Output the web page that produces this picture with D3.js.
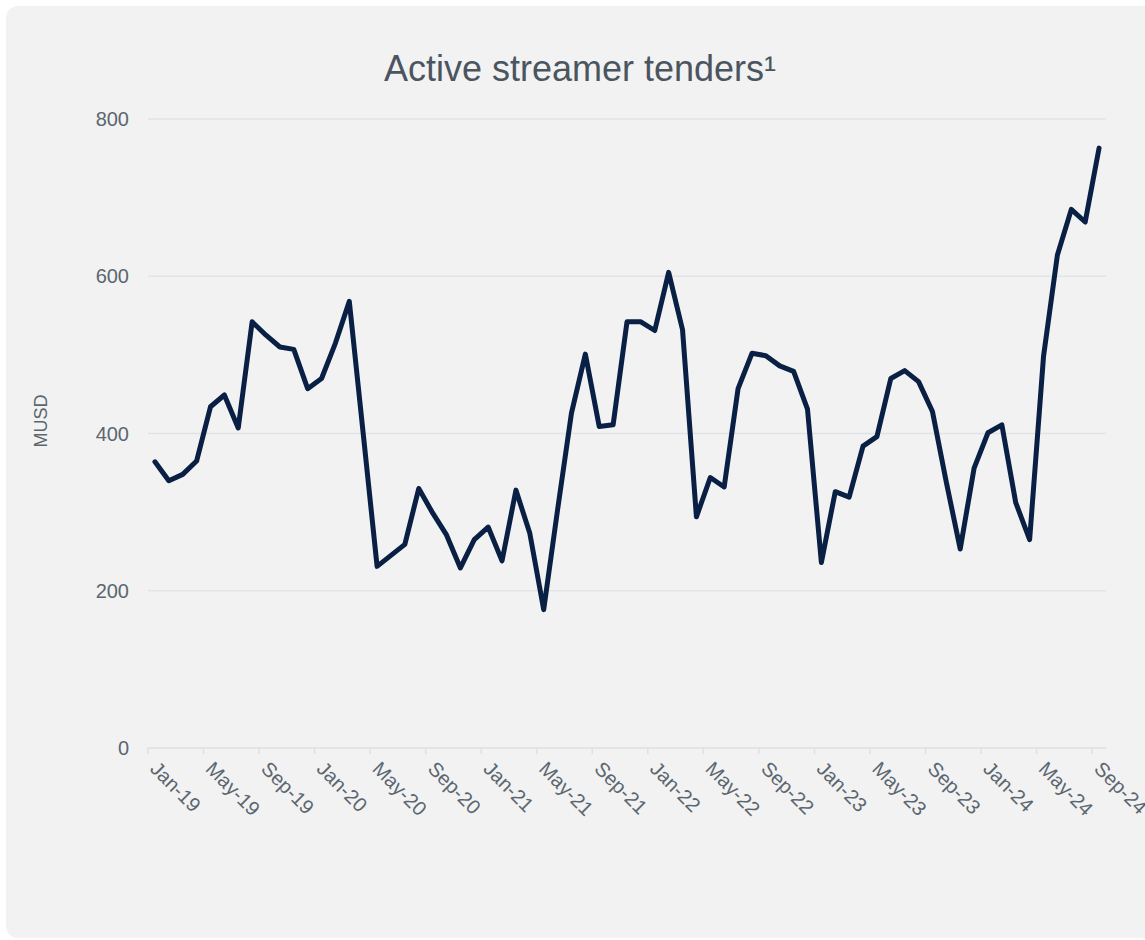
<!DOCTYPE html>
<html>
<head>
<meta charset="utf-8">
<script src="https://cdn.jsdelivr.net/npm/d3@7"></script>
<style>
  body { margin: 0; background: #fff; font-family: "Liberation Sans", Arial, sans-serif; }
</style>
</head>
<body>
<svg id="chart" width="1145" height="940"></svg>
<script>
// monthly values Jan-19 .. Sep-24 (MUSD)
var months = [];
var yrs = ["19","20","21","22","23","24"];
var mnames = ["Jan","Feb","Mar","Apr","May","Jun","Jul","Aug","Sep","Oct","Nov","Dec"];
yrs.forEach(function(y){ mnames.forEach(function(m){ months.push(m + "-" + y); }); });
months = months.slice(0, 69);

var values = [364, 340, 348, 365, 434, 449, 407, 542, 525, 510, 507, 457,
              470, 515, 568, 400, 231, 245, 259, 330, 299, 271, 229, 265,
              281, 238, 328, 273, 176, 303, 426, 501, 409, 411, 542, 542,
              531, 605, 532, 294, 344, 332, 457, 502, 499, 486, 479, 431,
              236, 326, 319, 384, 396, 470, 480, 466, 428, 338, 253, 356,
              401, 411, 312, 265, 498, 627, 685, 669, 763];

var yTicks = [0, 200, 400, 600, 800];
var xTickLabels = months.filter(function(d, i){ return i % 4 == 0; });

var svg = d3.select("#chart");

// card background
svg.append("rect")
  .attr("x", 6).attr("y", 6)
  .attr("width", 1160).attr("height", 932)
  .attr("rx", 12)
  .attr("fill", "#f2f2f2");

var margin = {top: 119, left: 148, right: 1106, bottom: 748};

var x = d3.scaleBand()
  .domain(months)
  .range([margin.left, margin.right]);

var y = d3.scaleLinear()
  .domain([0, 800])
  .range([margin.bottom, margin.top]);

// grid lines
svg.append("g").selectAll("line")
  .data(yTicks.filter(function(d){ return d > 0; }))
  .enter().append("line")
  .attr("x1", margin.left).attr("x2", margin.right)
  .attr("y1", function(d){ return y(d); })
  .attr("y2", function(d){ return y(d); })
  .attr("stroke", "#e0e3e7")
  .attr("stroke-width", 1.5);

// y labels
svg.append("g").selectAll("text")
  .data(yTicks)
  .enter().append("text")
  .attr("x", 129)
  .attr("y", function(d){ return y(d); })
  .attr("dy", "0.35em")
  .attr("text-anchor", "end")
  .attr("font-size", "20px")
  .attr("fill", "#5b6670")
  .text(function(d){ return d; });

// x axis
var xAxis = svg.append("g")
  .attr("transform", "translate(0," + margin.bottom + ")");
xAxis.append("line")
  .attr("x1", margin.left).attr("x2", margin.right)
  .attr("stroke", "#dde1e5").attr("stroke-width", 1.5);
xAxis.selectAll("line.tick")
  .data(xTickLabels)
  .enter().append("line")
  .attr("class", "tick")
  .attr("x1", function(d){ return x(d); })
  .attr("x2", function(d){ return x(d); })
  .attr("y1", 0).attr("y2", 6)
  .attr("stroke", "#dde1e5").attr("stroke-width", 1.5);
xAxis.selectAll("text")
  .data(xTickLabels)
  .enter().append("text")
  .attr("transform", function(d){ return "translate(" + (x(d) + 1) + ",22) rotate(45)"; })
  .attr("text-anchor", "start")
  .attr("font-size", "20px")
  .attr("fill", "#5b6670")
  .text(function(d){ return d; });

// line
var line = d3.line()
  .x(function(d, i){ return x(months[i]) + x.bandwidth() / 2; })
  .y(function(d){ return y(d); });

svg.append("path")
  .datum(values)
  .attr("d", line)
  .attr("fill", "none")
  .attr("stroke", "#0a1f44")
  .attr("stroke-width", 5)
  .attr("stroke-linejoin", "round")
  .attr("stroke-linecap", "round");

// title
svg.append("text")
  .attr("x", 580).attr("y", 81)
  .attr("text-anchor", "middle")
  .attr("font-size", "36px")
  .attr("fill", "#4b5560")
  .text("Active streamer tenders\u00b9");

// y axis title
svg.append("text")
  .attr("transform", "translate(47,421) rotate(-90)")
  .attr("text-anchor", "middle")
  .attr("font-size", "18px")
  .attr("fill", "#5b6670")
  .text("MUSD");
</script>
</body>
</html>
